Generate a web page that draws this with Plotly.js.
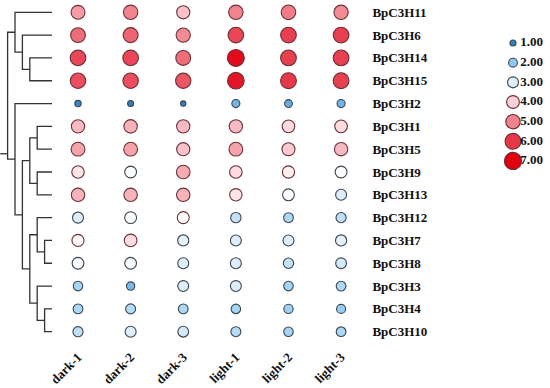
<!DOCTYPE html>
<html>
<head>
<meta charset="utf-8">
<script src="https://cdn.plot.ly/plotly-3.0.1.min.js"></script>
<style>html,body{margin:0;padding:0;background:#fff;}#chart{width:550px;height:388px;}</style>
</head>
<body>
<div id="chart"></div>
<script>
// ---- data ----
const samples = ['dark-1','dark-2','dark-3','light-1','light-2','light-3'];
const genes = ['BpC3H11','BpC3H6','BpC3H14','BpC3H15','BpC3H2','BpC3H1','BpC3H5','BpC3H9','BpC3H13','BpC3H12','BpC3H7','BpC3H8','BpC3H3','BpC3H4','BpC3H10'];
const dark1  = [4.7,5.3,5.8,5.7,1.1,4.3,4.6,3.8,4.4,3.0,3.6,3.4,2.3,2.4,2.6];
const dark2  = [5.0,5.4,5.8,5.7,1.0,4.4,4.6,3.45,4.4,3.45,3.9,3.4,1.8,2.5,3.0];
const dark3  = [4.2,4.9,5.3,5.6,0.8,4.3,4.2,4.5,4.4,3.5,3.1,3.0,3.0,2.4,2.9];
const light1 = [5.0,5.8,6.8,6.6,1.7,4.3,4.6,3.9,3.8,2.7,3.0,3.0,3.0,2.3,2.5];
const light2 = [5.1,5.9,5.9,6.0,1.6,3.9,4.1,3.7,3.45,2.4,3.0,2.7,2.3,2.2,2.3];
const light3 = [4.9,5.9,5.9,5.9,1.7,3.9,4.3,3.45,3.0,2.6,3.1,2.9,2.4,2.1,2.4];
const columns = [dark1, dark2, dark3, light1, light2, light3];
const legendValues = [1,2,3,4,5,6,7];
const legendLabels = ['1.00','2.00','3.00','4.00','5.00','6.00','7.00'];
// dendrogram merges: [childA, childB, height]
const merges = [
  ['BpC3H14','BpC3H15',3],
  ['BpC3H6','N0',4],
  ['BpC3H11','N1',5],
  ['BpC3H1','BpC3H5',2],
  ['BpC3H9','BpC3H13',2],
  ['N3','N4',3],
  ['BpC3H7','BpC3H8',1],
  ['BpC3H12','N6',2],
  ['BpC3H4','BpC3H10',1],
  ['BpC3H3','N8',2],
  ['N7','N9',3],
  ['N5','N10',4],
  ['BpC3H2','N11',5],
  ['N2','N12',6]
];
const rootHeight = 7;
const rootRow = 6.2;   // row position of the root stub as drawn in the source

// ---- styling helpers ----
const cmin = 1, cmax = 7;
const norm = v => (v - cmin) / (cmax - cmin);
const colorscale = [
  [norm(1), '#2f7fc6'],
  [norm(2), '#8ccaf2'],
  [norm(3), '#ddedfa'],
  [norm(3.5), '#ffffff'],
  [norm(4), '#fcd2d8'],
  [norm(5), '#f0838d'],
  [norm(6), '#e7384a'],
  [norm(7), '#e00010']
];
const sizeOf = v => 6.8 * Math.sqrt(v) - 0.8;
const edgeOf = v => v >= 3.5 ? '#6a3036' : '#3b4550';

// ---- bubble grid ----
const bx = [], by = [], bv = [];
columns.forEach((col, ci) => col.forEach((v, gi) => { bx.push(ci); by.push(gi); bv.push(v); }));
const bubbles = {
  type: 'scatter', mode: 'markers', x: bx, y: by, xaxis: 'x', yaxis: 'y', cliponaxis: false,
  marker: {
    color: bv, cmin: cmin, cmax: cmax, colorscale: colorscale, showscale: false,
    size: bv.map(sizeOf), opacity: 1,
    line: {color: bv.map(edgeOf), width: 1.1}
  },
  hoverinfo: 'none', showlegend: false
};

// ---- dendrogram ----
const nodePos = {};
genes.forEach((g, i) => nodePos[g] = {y: i, h: 0});
const dx = [], dy = [];
merges.forEach((m, k) => {
  const a = nodePos[m[0]], b = nodePos[m[1]], h = m[2];
  dx.push(a.h, h, h, b.h, null);
  dy.push(a.y, a.y, b.y, b.y, null);
  nodePos['N' + k] = {y: (a.y + b.y) / 2, h: h};
});
const root = nodePos['N' + (merges.length - 1)];
dx.push(root.h, rootHeight, null);
dy.push(rootRow, rootRow, null);
const dendro = {
  type: 'scatter', mode: 'lines', x: dx, y: dy, xaxis: 'x2', yaxis: 'y', cliponaxis: false,
  line: {color: '#333333', width: 1.3, shape: 'linear'},
  hoverinfo: 'none', showlegend: false, connectgaps: false
};

// ---- size/colour key ----
const keyMarkers = {
  type: 'scatter', mode: 'markers', x: legendValues.map(() => 0), y: legendValues.map((v, i) => i),
  xaxis: 'x3', yaxis: 'y3', cliponaxis: false,
  marker: {color: legendValues, cmin: cmin, cmax: cmax, colorscale: colorscale, showscale: false,
    size: legendValues.map(sizeOf), opacity: 1, line: {color: legendValues.map(edgeOf), width: 1.1}},
  hoverinfo: 'none', showlegend: false
};
const keyText = {
  type: 'scatter', mode: 'text', x: legendValues.map(() => 0.55), y: legendValues.map((v, i) => i),
  xaxis: 'x3', yaxis: 'y3', text: legendLabels, textposition: 'middle right', cliponaxis: false,
  textfont: {family: 'Liberation Serif, Times New Roman, serif', size: 13, color: '#111', weight: 'bold'},
  hoverinfo: 'none', showlegend: false
};

const serif = 'Liberation Serif, Times New Roman, serif';
const layout = {
  width: 550, height: 388,
  margin: {l: 0, r: 0, t: 0, b: 0},
  paper_bgcolor: '#ffffff', plot_bgcolor: 'rgba(0,0,0,0)',
  showlegend: false,
  xaxis: {
    domain: [0.094, 0.668], range: [-0.5, 5.5], tickvals: [0,1,2,3,4,5], ticktext: samples,
    tickangle: -45, tickfont: {family: serif, size: 13, color: '#111', weight: 'bold'},
    showgrid: false, zeroline: false, showline: false, ticks: '', anchor: 'y', fixedrange: true,
    ticklabelstandoff: 3
  },
  yaxis: {
    domain: [0.1157, 0.9977], range: [14.5, -0.5], tickvals: genes.map((g, i) => i), ticktext: genes,
    side: 'right', anchor: 'x', tickfont: {family: serif, size: 13, color: '#111', weight: 'bold'},
    showgrid: false, zeroline: false, showline: false, ticks: '', ticklabelstandoff: 4, fixedrange: true
  },
  xaxis2: {
    domain: [0, 52/550], range: [52/7.4, 0], anchor: 'y',
    visible: false, showgrid: false, zeroline: false, fixedrange: true
  },
  xaxis3: {
    domain: [500/550, 526/550], range: [-1, 1], anchor: 'y3',
    visible: false, showgrid: false, zeroline: false, fixedrange: true
  },
  yaxis3: {
    domain: [1 - 170.8/388, 1 - 33.2/388], range: [6.5, -0.5], anchor: 'x3',
    visible: false, showgrid: false, zeroline: false, fixedrange: true
  }
};

Plotly.newPlot('chart', [dendro, bubbles, keyMarkers, keyText], layout, {staticPlot: true, displayModeBar: false});
</script>
</body>
</html>
